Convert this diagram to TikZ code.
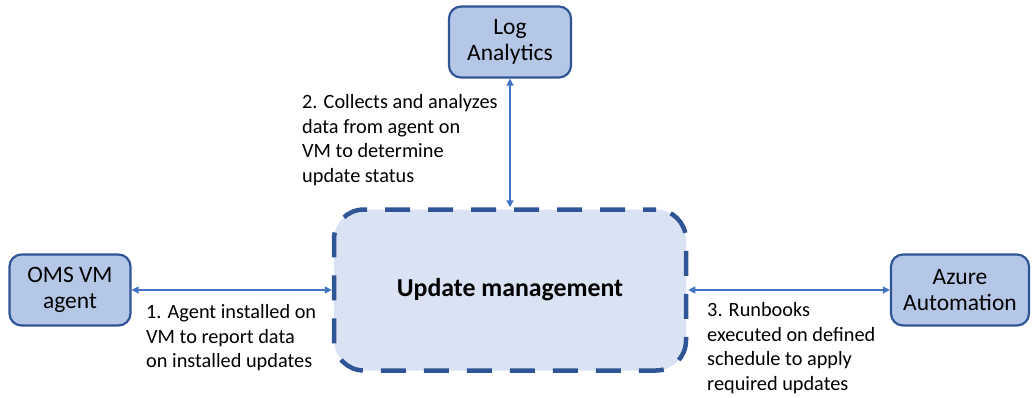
\documentclass[tikz,border=0pt]{standalone}
\usepackage{fontspec}
\setmainfont{Carlito}
\usepackage{xcolor}
\definecolor{boxfill}{HTML}{B4C7E7}
\definecolor{boxline}{HTML}{2F5597}
\definecolor{hubfill}{HTML}{DAE3F3}
\definecolor{arrowblue}{HTML}{4472C4}
\usetikzlibrary{positioning, arrows.meta}

\tikzset{
  service/.style={draw=boxline, fill=boxfill, line width=2.2pt, rounded corners=12pt,
    align=center, font=\fontsize{23.5}{26}\selectfont, inner sep=0pt},
  hub/.style={draw=boxline, fill=hubfill, line width=4.5pt, rounded corners=30pt,
    dash pattern=on 25pt off 18pt, dash phase=12pt,
    font=\bfseries\fontsize{25.8}{30}\selectfont, inner sep=0pt},
  link/.style={draw=arrowblue, line width=1.6pt, {Triangle[length=7pt,width=7pt]}-{Triangle[length=7pt,width=7pt]}},
  steptext/.style={align=left, anchor=north west, inner sep=0pt,
    font=\fontsize{20.3}{24.8}\selectfont}
}

\begin{document}
\begin{tikzpicture}[x=1pt, y=-1pt]
  \useasboundingbox (0,0) rectangle (1032,398);

  % boxes
  \node[hub, minimum width=352pt, minimum height=161pt] (upd) at (510,290) {Update management};
  \node[service, minimum width=122pt, minimum height=71pt] (log) at (510,42) {Log\\Analytics};
  \node[service, minimum width=121pt, minimum height=71pt] (oms) at (70,290) {OMS VM\\agent};
  \node[service, minimum width=138pt, minimum height=71pt] (aut) at (960,290) {Azure\\Automation};

  % connectors
  \draw[link] (log.south) -- (upd.north);
  \draw[link] (oms.east) -- (upd.west);
  \draw[link] (upd.east) -- (aut.west);

  % labels
  \node[steptext] (lbl2) at (302,94) {2. Collects and analyzes\\data from agent on\\VM to determine\\update status};
  \node[steptext] (lbl1) at (146,304) {1. Agent installed on\\VM to report data\\on installed updates};
  \node[steptext] (lbl3) at (707,302) {3. Runbooks\\executed on defined\\schedule to apply\\required updates};
\end{tikzpicture}
\end{document}
